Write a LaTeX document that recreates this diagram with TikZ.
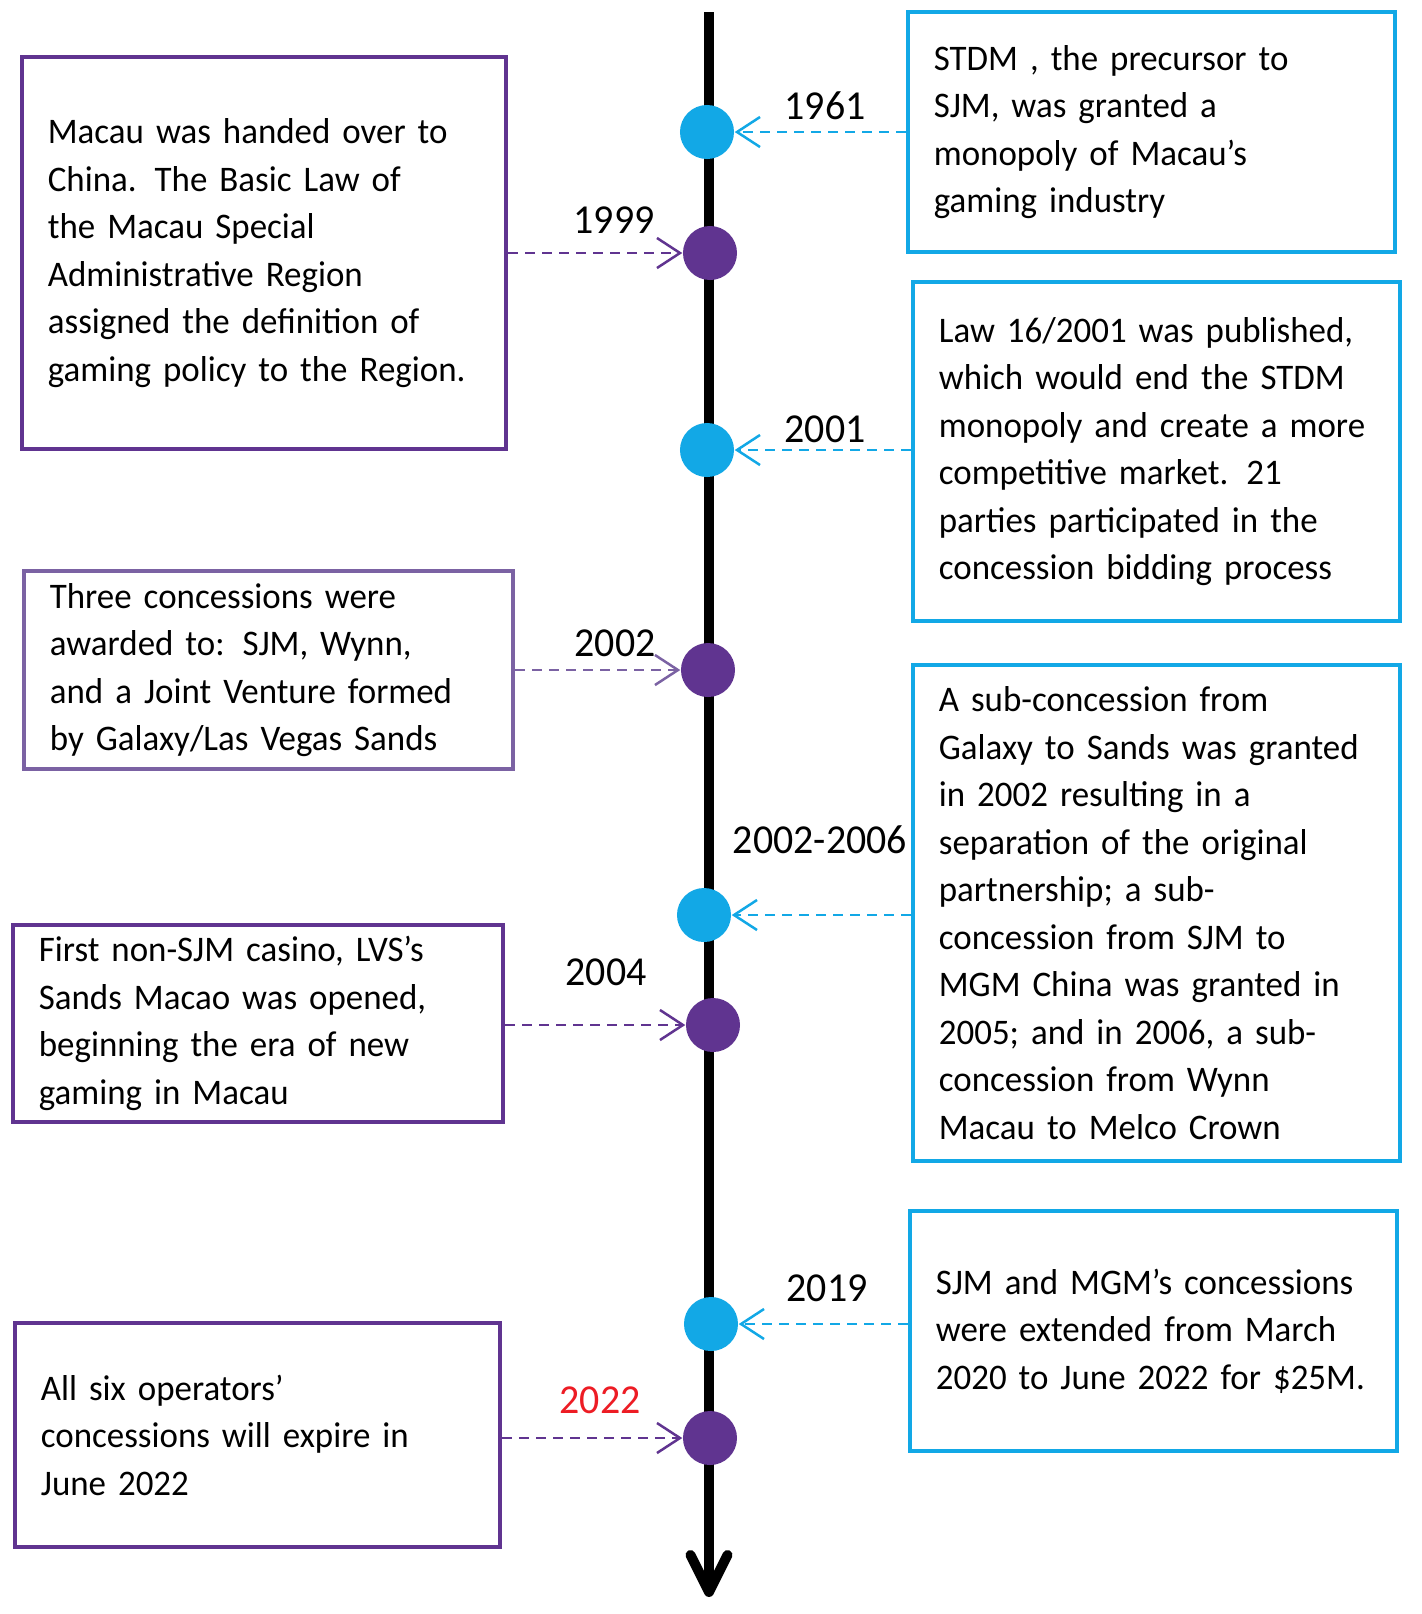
\documentclass[tikz,border=0pt]{standalone}
\usepackage{fontspec}
\setmainfont{Carlito}[FakeStretch=0.97]
\usetikzlibrary{arrows.meta}
\definecolor{evpurple}{RGB}{96,52,144}
\definecolor{evlilac}{RGB}{123,98,163}
\definecolor{evblue}{RGB}{18,168,230}
\definecolor{evred}{RGB}{237,28,36}
\hyphenpenalty=10000
\exhyphenpenalty=10000
\begin{document}
\begin{tikzpicture}[x=0.01cm,y=-0.01cm,
  box/.style={draw,line width=0.04cm,align=left,inner xsep=0.26cm,font=\fontsize{10.24}{13.5}\selectfont},
  purplebox/.style={box,draw=evpurple},
  bluebox/.style={box,draw=evblue},
  dot/.style={circle,minimum size=0.54cm,inner sep=0pt},
  purpledot/.style={dot,fill=evpurple},
  bluedot/.style={dot,fill=evblue},
  year/.style={font=\fontsize{11.7}{14}\selectfont},
  link/.style={line width=0.025cm,dash pattern=on 0.1cm off 0.07cm,-{Straight Barb[length=0.23cm,width=0.3cm]}},
  purplelink/.style={link,evpurple},
  bluelink/.style={link,evblue}]
\useasboundingbox (0,0) rectangle (1422,1614);

\coordinate (top) at (709,12);
\coordinate (bottom) at (709,1597);
\draw[line width=0.1cm,-{Straight Barb[length=0.37cm,width=0.37cm,round]}] (top) -- (bottom);

\node[bluedot] (d1961) at (707,132) {};
\node[purpledot] (d1999) at (710,253) {};
\node[bluedot] (d2001) at (707,450) {};
\node[purpledot] (d2002) at (708,670) {};
\node[bluedot] (d2006) at (704,915) {};
\node[purpledot] (d2004) at (713,1025) {};
\node[bluedot] (d2019) at (711,1324) {};
\node[purpledot] (d2022) at (710,1438) {};

\node[year] (y1961) at (825,106) {1961};
\node[year] (y1999) at (614,220) {1999};
\node[year] (y2001) at (825,429) {2001};
\node[year] (y2002) at (615,643) {2002};
\node[year] (y2006) at (820,840) {2002-2006};
\node[year] (y2004) at (606,972) {2004};
\node[year] (y2019) at (827,1288) {2019};
\node[year,text=evred] (y2022) at (600,1400) {2022};

\node[bluebox,text width=4.35cm,minimum height=2.4cm] (b1961) at (1151.5,132)
  {STDM , the precursor to\\SJM, was granted a\\monopoly of Macau’s\\gaming industry};
\node[purplebox,text width=4.32cm,minimum height=3.92cm] (b1999) at (264,253)
  {Macau was handed over to\\China. The Basic Law of\\the Macau Special\\Administrative Region\\assigned the definition of\\gaming policy to the Region.};
\node[bluebox,text width=4.35cm,minimum height=3.39cm] (b2001) at (1156.5,451.5)
  {Law 16/2001 was published,\\which would end the STDM\\monopoly and create a more\\competitive market. 21\\parties participated in the\\concession bidding process};
\node[box,draw=evlilac,text width=4.37cm,minimum height=1.9cm] (b2002) at (268.5,670)
  {Three concessions were\\awarded to: SJM, Wynn,\\and a Joint Venture formed\\by Galaxy/Las Vegas Sands};
\node[bluebox,text width=4.35cm,minimum height=4.96cm] (b2006) at (1156.5,913)
  {A sub-concession from\\Galaxy to Sands was granted\\in 2002 resulting in a\\separation of the original\\partnership; a sub-\\concession from SJM to\\MGM China was granted in\\2005; and in 2006, a sub-\\concession from Wynn\\Macau to Melco Crown};
\node[purplebox,text width=4.38cm,minimum height=1.95cm] (b2004) at (258,1023.5)
  {First non-SJM casino, LVS’s\\Sands Macao was opened,\\beginning the era of new\\gaming in Macau};
\node[bluebox,text width=4.35cm,minimum height=2.4cm] (b2019) at (1153.5,1331)
  {SJM and MGM’s concessions\\were extended from March\\2020 to June 2022 for \$25M.};
\node[purplebox,text width=4.33cm,minimum height=2.24cm] (b2022) at (257.5,1435)
  {All six operators’\\concessions will expire in\\June 2022};

\draw[bluelink] (b1961.west |- d1961) -- (d1961.east);
\draw[purplelink] (b1999.east |- d1999) -- (d1999.west);
\draw[bluelink] (b2001.west |- d2001) -- (d2001.east);
\draw[link,evlilac] (b2002.east |- d2002) -- (d2002.west);
\draw[bluelink] (b2006.west |- d2006) -- (d2006.east);
\draw[purplelink] (b2004.east |- d2004) -- (d2004.west);
\draw[bluelink] (b2019.west |- d2019) -- (d2019.east);
\draw[purplelink] (b2022.east |- d2022) -- (d2022.west);
\end{tikzpicture}
\end{document}
